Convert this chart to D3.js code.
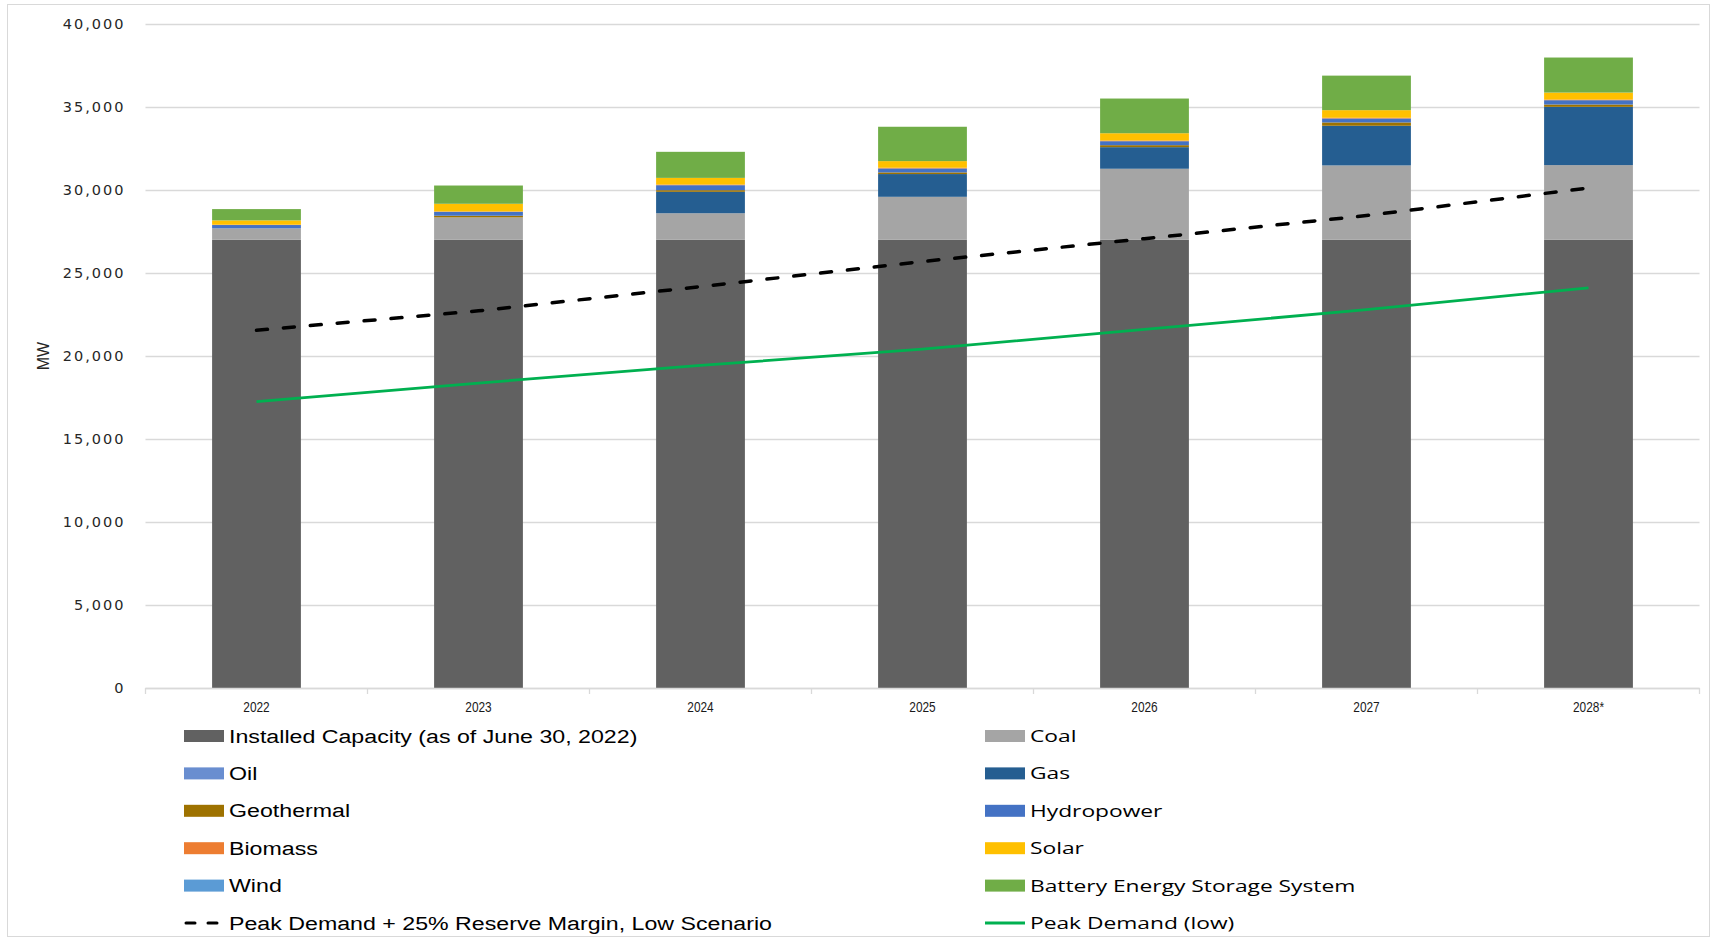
<!DOCTYPE html>
<html>
<head>
<meta charset="utf-8">
<script src="https://cdn.jsdelivr.net/npm/d3@7"></script>
<style>
  body { margin: 0; background: #fff; }
  svg { display: block; }
</style>
</head>
<body>
<svg id="chart" width="1716" height="940"></svg>
<script>
// categories
const years = ["2022", "2023", "2024", "2025", "2026", "2027", "2028*"]

// stacked series (MW), bottom to top
const installed = [27000, 27000, 27000, 27000, 27000, 27000, 27000]
const coal = [690, 1350, 1600, 2590, 4280, 4480, 4500]
const oil = [0, 0, 0, 0, 0, 0, 0]
const gas = [0, 0, 1290, 1370, 1300, 2390, 3510]
const geothermal = [0, 100, 100, 100, 120, 200, 140]
const hydropower = [200, 240, 300, 240, 240, 240, 260]
const biomass = [20, 20, 40, 40, 40, 40, 40]
const solar = [260, 460, 400, 400, 440, 460, 420]
const wind = [0, 0, 0, 0, 0, 0, 0]
const bess = [680, 1100, 1570, 2070, 2090, 2080, 2110]

// lines (MW)
const reserveLow = [21550, 22720, 24180, 25690, 27070, 28460, 30120]
const peakLow = [17250, 18370, 19430, 20410, 21600, 22790, 24110]

// y ticks
const yTicks = [0, 5000, 10000, 15000, 20000, 25000, 30000, 35000, 40000]

const series = [
  {name: "Installed Capacity (as of June 30, 2022)", values: installed, color: "#616161"},
  {name: "Coal", values: coal, color: "#a5a5a5"},
  {name: "Oil", values: oil, color: "#698ed0"},
  {name: "Gas", values: gas, color: "#255e91"},
  {name: "Geothermal", values: geothermal, color: "#9e7200"},
  {name: "Hydropower", values: hydropower, color: "#4472c4"},
  {name: "Biomass", values: biomass, color: "#ed7d31"},
  {name: "Solar", values: solar, color: "#ffc000"},
  {name: "Wind", values: wind, color: "#5b9bd5"},
  {name: "Battery Energy Storage System", values: bess, color: "#70ad47"}
]
const lines = [
  {name: "Peak Demand + 25% Reserve Margin, Low Scenario", values: reserveLow, color: "#000", dash: "11,16", width: 3.5},
  {name: "Peak Demand (low)", values: peakLow, color: "#00b050", dash: null, width: 2.8}
]

const svg = d3.select("#chart")
const plotLeft = 145.5, plotRight = 1699.5, plotTop = 24, plotBottom = 688

// outer frame
svg.append("rect").attr("x", 7.5).attr("y", 4.5).attr("width", 1702).attr("height", 932)
  .attr("fill", "none").attr("stroke", "#d9d9d9")

let x = d3.scaleBand().domain(years).range([plotLeft, plotRight]).paddingInner(0.6).paddingOuter(0.3)
let y = d3.scaleLinear().domain([0, 40000]).range([plotBottom, plotTop])

// gridlines
svg.append("g").attr("transform", `translate(${plotLeft},0)`)
  .call(d3.axisLeft(y).tickValues(yTicks).tickSize(-(plotRight - plotLeft)).tickFormat(""))
  .call(g => g.select(".domain").remove())
  .call(g => g.selectAll("line").attr("stroke", "#d9d9d9").attr("stroke-width", 1.3))

// y labels
svg.append("g").attr("transform", `translate(${plotLeft},0)`)
  .call(d3.axisLeft(y).tickValues(yTicks).tickSize(0).tickPadding(20).tickFormat(d3.format(",")))
  .call(g => g.select(".domain").remove())
  .call(g => g.selectAll("text")
    .attr("font-family", "DejaVu Sans").attr("font-size", 14.5)
    .attr("letter-spacing", 2).attr("fill", "#262626"))

svg.append("text").attr("transform", "translate(49,356) rotate(-90)")
  .attr("text-anchor", "middle").attr("font-family", "Liberation Sans")
  .attr("font-size", 16).attr("fill", "#262626").text("MW")

// stacked bars
let rows = years.map((yr, i) => {
  let r = {year: yr}
  series.forEach(s => { r[s.name] = s.values[i] })
  return r
})
let stacked = d3.stack().keys(series.map(s => s.name))(rows)

svg.append("g").selectAll("g").data(stacked).join("g")
  .attr("fill", (d, i) => series[i].color)
  .selectAll("rect").data(d => d).join("rect")
  .attr("x", d => x(d.data.year))
  .attr("width", x.bandwidth())
  .attr("y", d => y(d[1]))
  .attr("height", d => y(d[0]) - y(d[1]))

// x axis
let step = x.step()
let edges = years.map(yr => x(yr) - step * 0.3).concat([plotRight])
svg.append("line").attr("x1", plotLeft).attr("x2", plotRight).attr("y1", plotBottom + 0.5).attr("y2", plotBottom + 0.5)
  .attr("stroke", "#d9d9d9").attr("stroke-width", 1.3)
svg.append("g").selectAll("line").data(edges).join("line")
  .attr("x1", d => d).attr("x2", d => d).attr("y1", plotBottom).attr("y2", plotBottom + 6)
  .attr("stroke", "#d9d9d9").attr("stroke-width", 1.3)

svg.append("g").attr("transform", `translate(0,${plotBottom})`)
  .call(d3.axisBottom(x).tickSize(0).tickPadding(14))
  .call(g => g.select(".domain").remove())
  .call(g => g.selectAll("text")
    .attr("font-family", "Liberation Sans").attr("font-size", 14.5)
    .attr("transform", "scale(0.82,1)").attr("fill", "#1a1a1a"))

// lines
let lineGen = d3.line().x((d, i) => x(years[i]) + x.bandwidth() / 2).y(d => y(d))
lines.forEach(l => {
  svg.append("path").attr("d", lineGen(l.values))
    .attr("fill", "none").attr("stroke", l.color).attr("stroke-width", l.width)
    .attr("stroke-dasharray", l.dash).attr("stroke-linecap", l.dash ? "round" : "butt")
})

// legend
let legendItems = series.map(s => ({name: s.name, color: s.color, kind: "box"}))
  .concat(lines.map(l => ({name: l.name, color: l.color, kind: "line", dash: l.dash})))
let leg = svg.append("g")
legendItems.forEach((item, i) => {
  let col = i % 2, row = Math.floor(i / 2)
  let sx = col === 0 ? 184 : 985
  let cy = 736 + row * 37.4
  let g = leg.append("g").attr("transform", `translate(${sx},${cy})`)
  if (item.kind === "box") {
    g.append("rect").attr("x", 0).attr("y", -6).attr("width", 40).attr("height", 12).attr("fill", item.color)
  } else {
    g.append("line").attr("x1", item.dash ? 2 : 0).attr("x2", item.dash ? 38 : 40).attr("y1", 0).attr("y2", 0)
      .attr("stroke", item.color).attr("stroke-width", 3)
      .attr("stroke-dasharray", item.dash ? "9,13" : null)
      .attr("stroke-linecap", item.dash ? "round" : "butt")
  }
  let stretch = col === 0 ? 1.22 : 1.34
  let t = g.append("g").attr("transform", `translate(45,0) scale(${stretch},1)`)
    .append("text").attr("x", 0).attr("y", 0).attr("dy", "0.35em")
    .attr("fill", "#000").text(item.name)
  if (col === 0) {
    t.attr("font-family", "Liberation Sans").attr("font-size", 19)
  } else {
    t.attr("font-family", "Open Sans").attr("font-size", 17)
  }
})
</script>
</body>
</html>
